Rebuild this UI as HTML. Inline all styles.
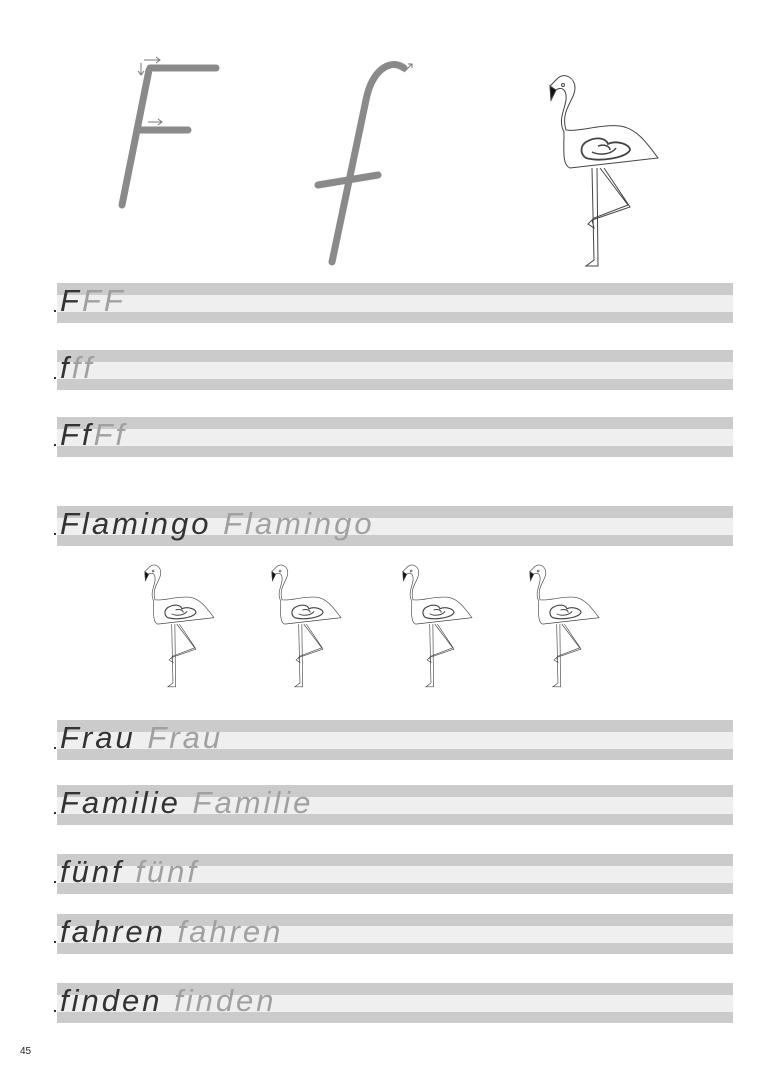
<!DOCTYPE html>
<html><head><meta charset="utf-8"><style>
body{margin:0;width:768px;height:1086px;background:#fff;position:relative;overflow:hidden;font-family:"Liberation Sans",sans-serif}
.row{position:absolute;left:57px;width:676px;height:40px}
.row .d1{position:absolute;left:0;top:0;width:100%;height:12px;background:#cbcbcb}
.row .l{position:absolute;left:0;top:12px;width:100%;height:17px;background:#efefef}
.row .d2{position:absolute;left:0;top:29px;width:100%;height:11px;background:#cbcbcb}
.row .t{position:absolute;left:3px;top:0px;font-size:31px;font-style:italic;white-space:nowrap;letter-spacing:3px;line-height:36px}
.row .t .k{color:#333}.row .t .g{color:#a0a0a0}
.dot{position:absolute;left:-3px;top:27px;width:2px;height:2px;background:#333}
.pg{position:absolute;left:20px;top:1046px;font-size:10px;color:#222}
</style></head><body>
<svg width="768" height="1086" style="position:absolute;left:0;top:0">
<defs>
<g id="fl" fill="none" stroke="#444" stroke-width="1">
<path d="M36 70 C30 50 45 40 45 28 C45 18 35 12 28 18 L20 26 L21 40 L26 30 C32 26 37 30 36 40 C34 52 28 60 34 72 C34 90 32 105 40 108 L110 100 L128 98 C115 80 105 68 90 66 C70 64 50 72 36 70 Z"/>
<path d="M20 26 L21 40 L26 30 Z" fill="#111"/>
<circle cx="33" cy="25" r="1.5"/>
<path d="M56 82 C66 76 76 78 78 84 C86 80 100 84 100 90 C96 98 70 102 56 98 C50 94 50 86 56 82 Z" stroke-width="1.8"/>
<path d="M62 92 C70 96 82 94 86 88 M68 86 C74 84 80 86 80 90" stroke-width="1.5"/>
<path d="M62 108 L64 200 L56 206 L68 206 L67 108 M70 108 L98 145 L64 158 L58 164 L64 168 L62 160 L100 147 L74 108"/>
</g>
</defs>
<g stroke="#8a8a8a" stroke-width="7" stroke-linecap="round" fill="none">
<path d="M150 68 L216 68"/><path d="M149 70 L122 205"/><path d="M140 130 L188 130"/>
</g>
<g stroke="#777" stroke-width="1" fill="none">
<path d="M144 60 L160 60 M156 57 L160 60 L156 63"/><path d="M141 63 L141 75 M138 71 L141 75 L144 71"/><path d="M148 122 L162 122 M158 119 L162 122 L158 125"/>
<path d="M404 72 L412 64 M408 64 L412 64 L412 68"/>
</g>
<g stroke="#8a8a8a" stroke-width="7" stroke-linecap="round" fill="none">
<path d="M404 68 C390 58 372 70 366 100 L332 262"/><path d="M318 185 L378 175"/>
</g>
<use href="#fl" x="530" y="60"/>
<use href="#fl" transform="translate(132,555) scale(0.64)"/>
<use href="#fl" transform="translate(259,555) scale(0.64)"/>
<use href="#fl" transform="translate(390,555) scale(0.64)"/>
<use href="#fl" transform="translate(517,555) scale(0.64)"/>
</svg>

<div class="row" style="top:283px"><div class="d1"></div><div class="l"></div><div class="d2"></div><div class="dot"></div><div class="t"><span class="k">F</span><span class="g">FF</span></div></div>
<div class="row" style="top:350px"><div class="d1"></div><div class="l"></div><div class="d2"></div><div class="dot"></div><div class="t"><span class="k">f</span><span class="g">ff</span></div></div>
<div class="row" style="top:417px"><div class="d1"></div><div class="l"></div><div class="d2"></div><div class="dot"></div><div class="t"><span class="k">Ff</span><span class="g">Ff</span></div></div>
<div class="row" style="top:506px"><div class="d1"></div><div class="l"></div><div class="d2"></div><div class="dot"></div><div class="t"><span class="k">Flamingo </span><span class="g">Flamingo</span></div></div>
<div class="row" style="top:720px"><div class="d1"></div><div class="l"></div><div class="d2"></div><div class="dot"></div><div class="t"><span class="k">Frau </span><span class="g">Frau</span></div></div>
<div class="row" style="top:785px"><div class="d1"></div><div class="l"></div><div class="d2"></div><div class="dot"></div><div class="t"><span class="k">Familie </span><span class="g">Familie</span></div></div>
<div class="row" style="top:854px"><div class="d1"></div><div class="l"></div><div class="d2"></div><div class="dot"></div><div class="t"><span class="k">fünf </span><span class="g">fünf</span></div></div>
<div class="row" style="top:914px"><div class="d1"></div><div class="l"></div><div class="d2"></div><div class="dot"></div><div class="t"><span class="k">fahren </span><span class="g">fahren</span></div></div>
<div class="row" style="top:983px"><div class="d1"></div><div class="l"></div><div class="d2"></div><div class="dot"></div><div class="t"><span class="k">finden </span><span class="g">finden</span></div></div>
<div class="pg">45</div>
</body></html>
